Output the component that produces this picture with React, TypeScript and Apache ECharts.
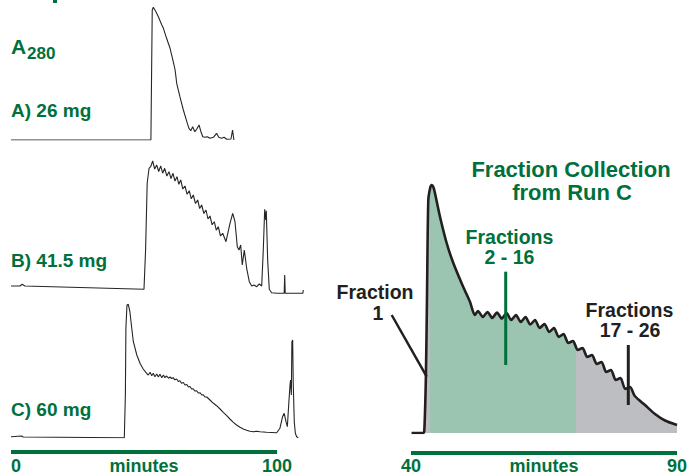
import React, { useEffect, useRef } from "react";
import * as echarts from "echarts";

// ---- Data (minutes, A280 in arbitrary units) ----
const traceA: number[][] = [
  [0, 0], [52.6, 0], [53.1, 130], [53.5, 132.7], [54.5, 128.3], [55.4, 123.3], [56.7, 115],
  [57.3, 111.7], [58.5, 101.7], [59.8, 91.7], [61.0, 78.3], [61.7, 70], [62.3, 56.7],
  [63.5, 43.3], [64.8, 30], [66.1, 18.3], [66.9, 11.7], [67.6, 9.3], [68.3, 13.3],
  [69.1, 8.3], [69.8, 10.7], [70.7, 15], [71.4, 8.3], [72.1, 3.3], [72.9, 2.7], [73.8, 3.3],
  [74.8, 1.7], [76.1, 2.7], [77.3, 6.7], [78.1, 2.7], [79.2, 1.7], [80.1, 2.7], [81.1, 0.7],
  [82.7, 1], [83.3, 10], [83.8, 0],
];

const traceB: number[][] = [
  [0, 8], [3.4, 8], [4.2, 9.7], [5.2, 8], [50.0, 4.7], [50.6, 44], [51.2, 110.7], [51.9, 125.7],
  [52.5, 127.3], [53.27, 133], [54.02, 125], [54.77, 129], [55.53, 122.5], [56.28, 128],
  [57.03, 120.8], [57.78, 125.7], [58.59, 118], [59.4, 122.3], [60.15, 115.5], [60.9, 120.7],
  [61.65, 113], [62.41, 117.3], [63.1, 109.7], [63.8, 114], [64.61, 105], [65.41, 108],
  [66.22, 99.7], [67.03, 103.3], [67.78, 95.2], [68.53, 99], [69.36, 90.5], [70.19, 94],
  [70.94, 85.5], [71.69, 89], [72.5, 80.5], [73.31, 84], [74.06, 75], [74.81, 78],
  [75.62, 69.2], [76.43, 72.3], [77.18, 63.8], [77.93, 67.3], [78.76, 58], [79.59, 60.7],
  [80.83, 52.3], [82.33, 70.7], [83.35, 80.7], [84.21, 72.3], [85.08, 47.3], [85.71, 44],
  [86.35, 49], [86.95, 29], [87.71, 44], [88.61, 25.7], [89.59, 12.3], [90.49, 8], [91.35, 9],
  [92.37, 7.3], [93.35, 10], [94.25, 8], [94.85, 44], [95.38, 84.7], [95.75, 74], [95.98, 83.3],
  [96.5, 34], [97.1, 4.7], [98.0, 1.3], [99.9, 0.7], [102.7, 0.7], [102.9, 19], [103.1, 0.7],
  [109.7, 0.7], [109.9, 4],
];

const traceC: number[][] = [
  [0, 1.3], [4.0, 2], [4.6, 1], [42.6, 0.3], [43.0, 43], [43.2, 109.7], [43.6, 133], [44.1, 133.7],
  [44.7, 126.3], [45.4, 109.7], [46.0, 96.3], [47.3, 83], [48.5, 74.7], [49.7, 69], [51.0, 64.7],
  [51.6, 63], [52.3, 65.7], [52.9, 62.3], [53.5, 64.7], [54.1, 61.3], [54.8, 64], [55.4, 61],
  [56.0, 63.7], [56.7, 60.3], [57.3, 63], [57.9, 60.3], [58.5, 62], [59.2, 59.8], [59.8, 61],
  [60.4, 59.5], [61.0, 60.3], [61.6, 58.2], [62.3, 59], [62.9, 56.5], [63.5, 57.3], [64.1, 54.8],
  [64.8, 55.5], [65.4, 53], [66.1, 53.5], [66.7, 51], [67.3, 51.5], [67.9, 49], [68.5, 49.3],
  [69.1, 47], [69.8, 47.3], [70.4, 45], [71.1, 45.2], [71.7, 43], [72.3, 43.2], [72.9, 41],
  [73.6, 41], [74.8, 38], [76.1, 34.7], [77.3, 32.3], [78.6, 29], [79.8, 25.7], [81.1, 22.3],
  [82.3, 19], [83.6, 15.7], [84.8, 13], [86.1, 10.7], [87.3, 9], [88.6, 7.7], [89.8, 6.7],
  [91.1, 6.3], [92.4, 6.7], [93.6, 6.3], [96.1, 5.7], [99.9, 5.3], [101.1, 9.7], [102.1, 21.3],
  [102.7, 24.7], [103.4, 16.3], [103.9, 11.3], [104.4, 33], [104.9, 53], [105.1, 58], [105.4, 43],
  [105.6, 96.3], [105.9, 98], [106.1, 56.3], [106.5, 16.3], [106.9, 4.7], [107.4, 1.3], [108.0, 0.3],
];

const runC: number[][] = [
  [40.1, 0], [42.3, 0], [42.5, 0.8], [42.8, 22.5], [43.0, 53], [43.25, 93], [43.6, 98],
  [43.9, 99.2], [44.2, 98.4], [44.5, 96], [45.45, 86.5], [46.7, 76], [47.95, 68], [49.8, 58.5],
  [51.1, 52.4], [52.0, 47.2], [52.59, 48.8], [53.49, 46.4], [54.38, 48.4], [55.27, 46.0],
  [56.17, 48.2], [57.06, 45.8], [57.95, 48.0], [58.84, 45.2], [59.74, 47.2], [60.63, 44.4],
  [61.52, 46.4], [62.42, 43.4], [63.31, 45.2], [64.2, 42.0], [65.09, 43.6], [65.99, 40.4],
  [66.88, 42.0], [67.77, 38.4], [68.67, 39.6], [69.56, 36.0], [70.45, 36.8], [71.34, 33.2],
  [72.24, 34.0], [73.13, 30.4], [74.02, 31.2], [74.92, 27.6], [75.81, 28.4], [76.7, 24.4],
  [77.59, 25.2], [78.49, 21.2], [79.38, 22.0], [80.27, 17.6], [81.17, 18.4], [82.06, 14.8],
  [83.98, 11.2], [85.86, 7.6], [87.74, 5.0], [90, 3.2],
];

// fraction cut points (minutes): fraction 1 | fractions 2-16 | fractions 17-26
const fractionCuts = [43.6, 71.0];
const leftRange = [0, 100];
const rightRange = [40, 90];

const GREEN = "#00703c";
const FILL_GREEN = "#9bc4b1";
const FILL_GRAY = "#bdbec1";
const INK = "#231f20";
const FONT = "'Liberation Sans', Arial, Helvetica, sans-serif";

export default function App() {
  const ref = useRef<HTMLDivElement>(null);
  useEffect(() => {
    if (!ref.current) return;
    const chart = echarts.init(ref.current, null, { renderer: "svg" });

    const traceGrid = (top: number) => ({
      left: 11, top, width: 297.9, height: 135, outerBoundsMode: "none", containLabel: false,
    });
    const hiddenX = (gi: number) => ({
      type: "value", gridIndex: gi, min: 0, max: 112, show: false,
    });
    const hiddenY = (gi: number, max: number) => ({
      type: "value", gridIndex: gi, min: 0, max, show: false,
    });
    const axisLabelStyle = {
      color: GREEN, fontWeight: "bold", fontSize: 18, fontFamily: FONT, margin: 5,
    };
    const nameStyle = {
      color: GREEN, fontWeight: "bold", fontSize: 18, fontFamily: FONT, verticalAlign: "top",
    };
    const traceSeries = (data: number[][], gi: number) => ({
      type: "line", xAxisIndex: gi, yAxisIndex: gi, data, showSymbol: false, symbol: "none",
      lineStyle: { color: "#262626", width: 1.1 }, z: 3,
    });

    const text = (t: string, x: number, y: number, color: string, size: number, align = "left") => ({
      type: "text", x, y, z: 100,
      style: {
        text: t, fill: color, font: `bold ${size}px ${FONT}`, align, verticalAlign: "middle",
      },
    });

    chart.setOption({
      animation: false,
      grid: [
        traceGrid(5),
        traceGrid(159),
        traceGrid(303),
        { left: 11, top: 441.5, width: 266, height: 10, outerBoundsMode: "none", containLabel: false },
        { left: 411, top: 183, width: 266, height: 250, outerBoundsMode: "none", containLabel: false },
        { left: 411, top: 443, width: 266, height: 10, outerBoundsMode: "none", containLabel: false },
      ],
      xAxis: [
        hiddenX(0), hiddenX(1), hiddenX(2),
        {
          type: "value", gridIndex: 3, min: leftRange[0], max: leftRange[1], interval: 100,
          axisLine: { show: true, lineStyle: { color: GREEN, width: 4, cap: "butt" } },
          axisTick: { show: false }, splitLine: { show: false },
          axisLabel: { ...axisLabelStyle, alignMinLabel: "left", alignMaxLabel: "center" },
          name: "minutes", nameLocation: "middle", nameGap: 5, nameMoveOverlap: false,
          nameTextStyle: nameStyle,
        },
        {
          type: "value", gridIndex: 4, min: rightRange[0], max: rightRange[1], show: false,
        },
        {
          type: "value", gridIndex: 5, min: rightRange[0], max: rightRange[1], interval: 50,
          axisLine: { show: true, lineStyle: { color: GREEN, width: 4, cap: "butt" } },
          axisTick: { show: false }, splitLine: { show: false },
          axisLabel: { ...axisLabelStyle, margin: 4, alignMinLabel: "center", alignMaxLabel: "center" },
          name: "minutes", nameLocation: "middle", nameGap: 4, nameMoveOverlap: false,
          nameTextStyle: nameStyle,
        },
      ],
      yAxis: [
        hiddenY(0, 135), hiddenY(1, 135), hiddenY(2, 135), hiddenY(3, 1), hiddenY(4, 100), hiddenY(5, 1),
      ],
      visualMap: {
        type: "piecewise", show: false, dimension: 0, seriesIndex: 3,
        pieces: [
          { gte: rightRange[0], lt: fractionCuts[0], color: FILL_GRAY },
          { gte: fractionCuts[0], lt: fractionCuts[1], color: FILL_GREEN },
          { gte: fractionCuts[1], lte: rightRange[1], color: FILL_GRAY },
        ],
        outOfRange: { color: FILL_GRAY },
      },
      series: [
        traceSeries(traceA, 0),
        traceSeries(traceB, 1),
        traceSeries(traceC, 2),
        {
          type: "line", xAxisIndex: 4, yAxisIndex: 4, data: runC, showSymbol: false, symbol: "none",
          smooth: 0.25, lineStyle: { width: 0 }, areaStyle: { opacity: 1 }, z: 2,
        },
        {
          type: "line", xAxisIndex: 4, yAxisIndex: 4, data: runC, showSymbol: false, symbol: "none",
          smooth: 0.25, lineStyle: { color: INK, width: 2.6 }, z: 4,
        },
      ],
      graphic: [
        { type: "rect", z: 100, shape: { x: 53, y: 0, width: 4, height: 3 }, style: { fill: GREEN } },
        text("A", 11, 46.5, GREEN, 21),
        text("280", 27, 53, GREEN, 17),
        text("A) 26 mg", 11, 110.5, GREEN, 19),
        text("B) 41.5 mg", 11, 260, GREEN, 19),
        text("C) 60 mg", 11, 409.3, GREEN, 19),
        text("Fraction Collection", 571, 169, GREEN, 22, "center"),
        text("from Run C", 572, 192.5, GREEN, 22, "center"),
        text("Fractions", 509.5, 236.5, GREEN, 19.5, "center"),
        text("2 - 16", 509.5, 256.5, GREEN, 19.5, "center"),
        text("Fraction", 375, 291.5, INK, 19.5, "center"),
        text("1", 378, 313.2, INK, 19.5, "center"),
        text("Fractions", 629.5, 310, INK, 19.5, "center"),
        text("17 - 26", 630, 330, INK, 19.5, "center"),
        {
          type: "line", z: 100, shape: { x1: 391.7, y1: 315, x2: 426.7, y2: 376.7 },
          style: { stroke: INK, lineWidth: 2.5 },
        },
        {
          type: "line", z: 100, shape: { x1: 505.7, y1: 271.7, x2: 505.7, y2: 365 },
          style: { stroke: GREEN, lineWidth: 3 },
        },
        {
          type: "line", z: 100, shape: { x1: 628.3, y1: 345, x2: 628.3, y2: 405 },
          style: { stroke: INK, lineWidth: 3 },
        },
      ],
    });
    return () => chart.dispose();
  }, []);

  return (
    <div
      ref={ref}
      style={{ position: "fixed", left: 0, top: 0, width: 687, height: 475, background: "#fff" }}
    />
  );
}
